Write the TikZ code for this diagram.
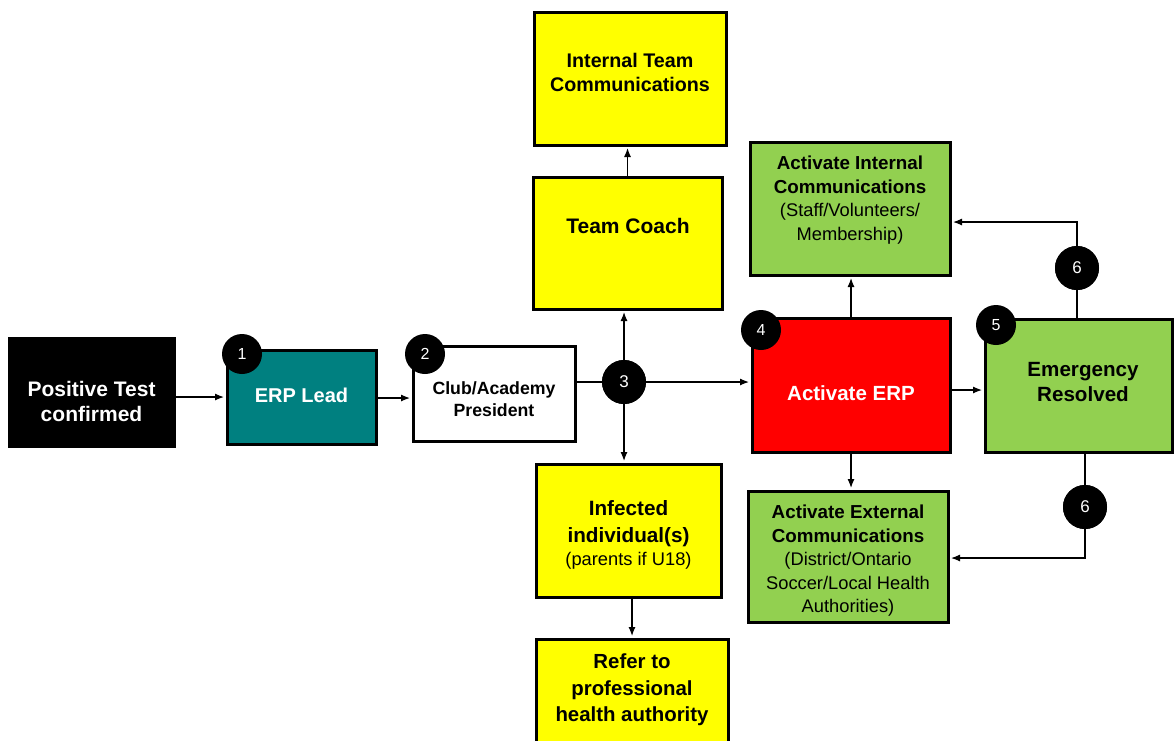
\documentclass[tikz,border=0pt]{standalone}
\usepackage{fontspec}
\setmainfont{Liberation Sans}
\usetikzlibrary{arrows.meta}
\definecolor{teal1}{RGB}{0,128,128}
\definecolor{green1}{RGB}{146,208,80}
\definecolor{yellow1}{RGB}{255,255,0}
\definecolor{red1}{RGB}{255,0,0}
\tikzset{
  box/.style={draw=black, line width=3pt, inner sep=0pt},
  badge/.style={circle, fill=black, inner sep=0pt, minimum size=40pt, text=white, font=\fontsize{16}{16}\selectfont},
  bigbadge/.style={circle, fill=black, inner sep=0pt, minimum size=44pt, text=white, font=\fontsize{17}{17}\selectfont},
  txt/.style={align=center, inner sep=0pt, font=\fontsize{21}{25}\selectfont\bfseries},
  ctxt/.style={align=center, inner sep=0pt, font=\fontsize{18.8}{23.5}\selectfont\bfseries},
  arr/.style={-{Latex[length=9pt,width=7pt]}, line width=1.2pt, shorten >=1.5pt},
  ln/.style={line width=1.2pt}
}
\newcommand{\subtx}{\fontsize{18.3}{22}\selectfont\mdseries}
\begin{document}
\begin{tikzpicture}[x=1pt,y=-1pt]
\useasboundingbox (0,0) rectangle (1174,740);
\fill[white] (0,0) rectangle (1174,740);

% boxes
\node[box, fill=black, minimum width=165pt, minimum height=108pt] (pos) at (91.5,392) {};
\node[box, fill=teal1, minimum width=149pt, minimum height=94pt] (erpl) at (301.5,397) {};
\node[box, fill=white, minimum width=162pt, minimum height=95pt] (club) at (494,393.5) {};
\node[box, fill=yellow1, minimum width=189pt, minimum height=132pt] (coach) at (627.5,243) {};
\node[box, fill=yellow1, minimum width=192pt, minimum height=133pt] (itc) at (630,78.5) {};
\node[box, fill=yellow1, minimum width=185pt, minimum height=133pt] (inf) at (628.5,530.5) {};
\node[box, fill=yellow1, minimum width=192pt, minimum height=120pt] (refer) at (632,699) {};
\node[box, fill=red1, minimum width=198pt, minimum height=134pt] (aerp) at (851,385) {};
\node[box, fill=green1, minimum width=200pt, minimum height=133pt] (aic) at (850,208.5) {};
\node[box, fill=green1, minimum width=200pt, minimum height=131pt] (aec) at (848,556.5) {};
\node[box, fill=green1, minimum width=187pt, minimum height=133pt] (emerg) at (1078.5,385.5) {};

% texts
\node[txt, text=white] (tpos) at (91.5,401) {Positive Test\\confirmed};
\node[txt, text=white, font=\fontsize{20}{25}\selectfont\bfseries] (terpl) at (301.5,395) {ERP Lead};
\node[align=center, inner sep=0pt, font=\fontsize{17.7}{22}\selectfont\bfseries] (tclub) at (494,399) {Club/Academy\\President};
\node[txt] (tcoach) at (628,226) {Team Coach};
\node[txt, font=\fontsize{19.7}{24}\selectfont\bfseries] (titc) at (630,72) {Internal Team\\Communications};
\node[txt, font=\fontsize{20.7}{27}\selectfont\bfseries] (tinf) at (628.5,535) {Infected\\individual(s)\\[-4pt]{\subtx (parents if U18)}};
\node[txt, font=\fontsize{20.4}{26.5}\selectfont\bfseries] (trefer) at (632,690) {Refer to\\professional\\health authority};
\node[txt, text=white, font=\fontsize{20.5}{25}\selectfont\bfseries] (taerp) at (851,393) {Activate ERP};
\node[ctxt] (taic) at (850,200) {Activate Internal\\Communications\\{\subtx (Staff/Volunteers/}\\{\subtx Membership)}};
\node[ctxt] (taec) at (848,561) {Activate External\\Communications\\{\subtx (District/Ontario}\\{\subtx Soccer/Local Health}\\{\subtx Authorities)}};
\node[txt, font=\fontsize{20.6}{25}\selectfont\bfseries] (temerg) at (1083,382) {Emergency\\Resolved};

% circles for 3 and 6
\node[bigbadge] (c3) at (624,382) {};
\node[bigbadge] (c6a) at (1077,268) {};
\node[bigbadge] (c6b) at (1085,507) {};
\coordinate (k1) at (1077,222);
\coordinate (k2) at (1085,558);

% connectors
\draw[arr] (pos.east |- erpl.west) -- (erpl.west);
\draw[arr] (erpl.east |- 0,398) -- (club.west |- 0,398);
\draw[ln] (club.east |- c3) -- (c3);
\draw[arr] (c3) -- (c3 -| aerp.west);
\draw[arr] (c3) -- (c3 |- coach.south);
\draw[arr] (c3) -- (c3 |- inf.north);
\draw[arr] (coach.north) -- (coach.north |- itc.south);
\draw[arr] (refer.north |- inf.south) -- (refer.north);
\draw[arr] (aerp.north) -- (aerp.north |- aic.south);
\draw[arr] (aerp.south) -- (aerp.south |- aec.north);
\draw[arr] (aerp.east |- 0,390) -- (emerg.west |- 0,390);
\draw[ln] (c6a |- emerg.north) -- (c6a);
\draw[arr] (c6a) -- (k1) -- (k1 -| aic.east);
\draw[ln] (c6b |- emerg.south) -- (c6b);
\draw[arr] (c6b) -- (k2) -- (k2 -| aec.east);

% circles on top
\node[bigbadge] (n3) at (c3) {3};
\node[bigbadge] (n6a) at (c6a) {6};
\node[bigbadge] (n6b) at (c6b) {6};

% badges
\node[badge] (b1) at (242,354) {1};
\node[badge] (b2) at (425,354) {2};
\node[badge] (b4) at (761,330) {4};
\node[badge] (b5) at (996,325) {5};
\end{tikzpicture}
\end{document}
